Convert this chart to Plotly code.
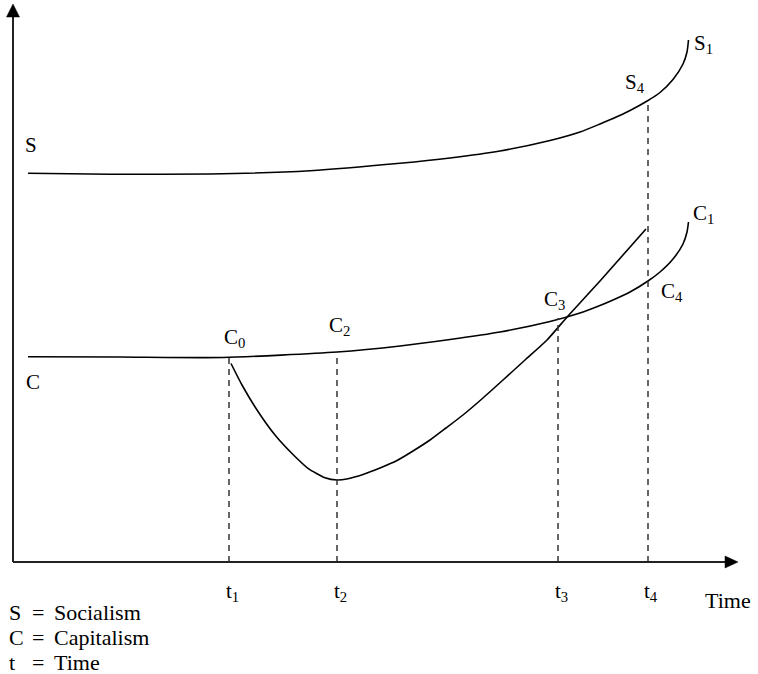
import plotly.graph_objects as go

# ---- data (time units along x, level units along y; origin at axis crossing) ----
s_time = [15, 97, 197, 297, 387, 437, 487, 537, 567, 587, 600, 617, 635, 647, 660, 670, 674, 675.5]
s_level = [388.7, 387.7, 388, 391.3, 398.7, 404, 411, 421.5, 430, 438, 443.5, 451.5, 461.5, 469.5, 482.5, 498, 510, 522]

c_time = [15, 107, 210, 324, 387, 437, 487, 537, 567, 587, 600, 617, 635, 647, 660, 670, 674, 675.5]
c_level = [205.3, 205, 204.5, 210, 216, 222.5, 230, 240.5, 249, 256.5, 262, 270, 281, 290, 303, 318, 330, 340]

dip_time = [218, 229, 245, 262, 279, 295, 312, 324, 335, 350, 367, 384, 400, 417, 433, 450, 470, 490, 512, 534, 555, 587, 633]
dip_level = [198.5, 177, 150.5, 127, 108.5, 93.7, 84.3, 82, 83.3, 87.5, 94, 101.5, 111, 122, 134, 147, 164, 182, 202, 222, 246, 281, 333]

t_labels = ["t<sub>1</sub>", "t<sub>2</sub>", "t<sub>3</sub>", "t<sub>4</sub>"]
t_positions = [216, 324, 545, 635]
t_tops = [205, 210, 244, 462]

legend_keys = ["S", "C", "t"]
legend_names = ["Socialism", "Capitalism", "Time"]

FONT = "Liberation Serif"
FS = 21
INK = "#000000"

fig = go.Figure()

line_style = dict(color=INK, width=1.6, shape="spline", smoothing=0.6)
fig.add_trace(go.Scatter(x=s_time, y=s_level, mode="lines", line=line_style, hoverinfo="skip"))
fig.add_trace(go.Scatter(x=c_time, y=c_level, mode="lines", line=line_style, hoverinfo="skip"))
fig.add_trace(go.Scatter(x=dip_time, y=dip_level, mode="lines", line=line_style, hoverinfo="skip"))

# dashed verticals
for tx, ty in zip(t_positions, t_tops):
    fig.add_trace(go.Scatter(x=[tx, tx], y=[0, ty], mode="lines",
                             line=dict(color="#333333", width=1.5, dash="6px,5px"),
                             hoverinfo="skip"))

shapes = []
axis_col = "#222222"
shapes.append(dict(type="line", x0=0, y0=0, x1=0, y1=546, line=dict(color=axis_col, width=2)))
shapes.append(dict(type="line", x0=0, y0=0, x1=713, y1=0, line=dict(color=axis_col, width=2)))
shapes.append(dict(type="path", path="M -6.5 545 L 6.5 545 L 0 558 Z",
                   fillcolor=INK, line=dict(color=INK, width=0.5)))
shapes.append(dict(type="path", path="M 712 6 L 712 -6 L 725 0 Z",
                   fillcolor=INK, line=dict(color=INK, width=0.5)))

annotations = []
def txt(x, y, s, xanchor="center", yanchor="middle", size=FS):
    annotations.append(dict(x=x, y=y, text=s, showarrow=False, xanchor=xanchor,
                            yanchor=yanchor, font=dict(family=FONT, size=size, color=INK)))

txt(18, 417, "S")
txt(20, 180, "C")
txt(221, 224, "C<sub>0</sub>")
txt(326, 236, "C<sub>2</sub>")
txt(541, 262, "C<sub>3</sub>")
txt(659, 270, "C<sub>4</sub>")
txt(690, 348, "C<sub>1</sub>")
txt(690, 518, "S<sub>1</sub>")
txt(622, 479, "S<sub>4</sub>")

for lab, tx in zip(t_labels, t_positions):
    txt(tx + 3, -30, lab)
txt(715, -38, "Time", size=22)

for i, (k, n) in enumerate(zip(legend_keys, legend_names)):
    yy = -50 - 25 * i
    txt(-6, yy, k, xanchor="left", size=22)
    txt(17, yy, "=", xanchor="left", size=22)
    txt(39, yy, n, xanchor="left", size=22)

fig.update_layout(
    width=758, height=674, autosize=False,
    margin=dict(l=0, r=0, t=0, b=0),
    paper_bgcolor="white", plot_bgcolor="white",
    showlegend=False,
    shapes=shapes, annotations=annotations,
    xaxis=dict(range=[-13, 745], visible=False, fixedrange=True),
    yaxis=dict(range=[-112, 562], visible=False, fixedrange=True),
)

fig.write_html("out.html", config={"displayModeBar": False},
               post_script="document.body.style.margin='0';document.body.style.overflow='hidden';")
